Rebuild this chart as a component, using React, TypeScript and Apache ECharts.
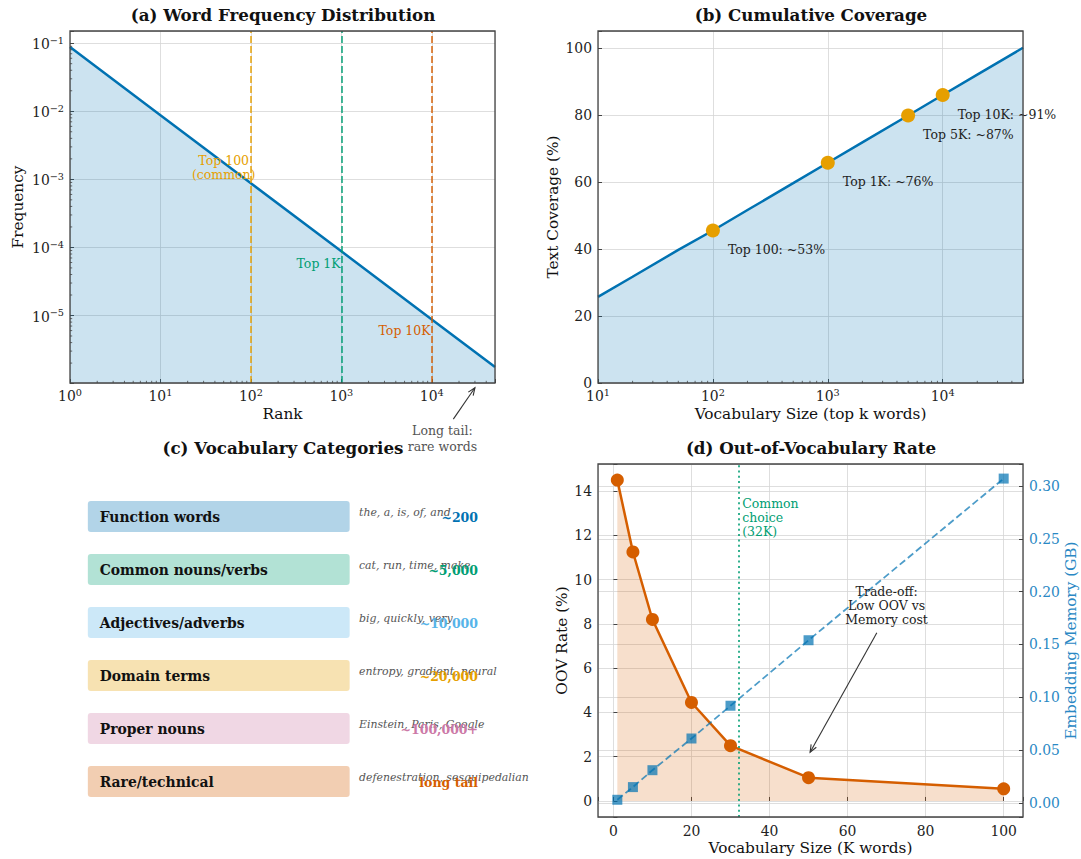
import React, { useEffect, useRef } from 'react';
import * as echarts from 'echarts';

const FONT = '"DejaVu Serif", serif';

// ---------- (a) Word frequency distribution ----------
const zipfRanks = [1, 10, 100, 1000, 10000, 50000];
const zipfFreq = [0.0877, 0.00877, 0.000877, 0.0000877, 0.00000877, 0.00000175];
const thresholdRanks = [100, 1000, 10000];
const thresholdLabels = ['Top 100\n(common)', 'Top 1K', 'Top 10K'];
const thresholdColors = ['#E69F00', '#009E73', '#D55E00'];

// ---------- (b) Cumulative coverage ----------
const vocabSizes = [10, 20, 50, 100, 200, 500, 1000, 2000, 5000, 10000, 20000, 50000];
const coverage = [25.7, 31.7, 39.7, 45.5, 51.6, 59.6, 65.7, 71.8, 79.8, 85.9, 92.0, 100];
const milestoneSizes = [100, 1000, 5000, 10000];
const milestoneCoverage = [45.5, 65.7, 79.8, 85.9];
const milestoneLabels = ['Top 100: ~53%', 'Top 1K: ~76%', 'Top 5K: ~87%', 'Top 10K: ~91%'];

// ---------- (c) Vocabulary categories ----------
const categoryNames = ['Function words', 'Common nouns/verbs', 'Adjectives/adverbs', 'Domain terms', 'Proper nouns', 'Rare/technical'];
const categoryExamples = ['the, a, is, of, and', 'cat, run, time, make', 'big, quickly, very', 'entropy, gradient, neural', 'Einstein, Paris, Google', 'defenestration, sesquipedalian'];
const categoryCounts = ['~200', '~5,000', '~10,000', '~20,000', '~100,000+', 'long tail'];
const categoryColors = ['#0072B2', '#009E73', '#56B4E9', '#E69F00', '#CC79A7', '#D55E00'];

// ---------- (d) OOV rate ----------
const vocabK = [1, 5, 10, 20, 30, 50, 100];
const oovRate = [14.5, 11.25, 8.2, 4.45, 2.5, 1.05, 0.55];
const memoryGB = [0.003, 0.015, 0.031, 0.061, 0.092, 0.154, 0.307];
const commonChoiceK = 32;

// layout
const GA = { left: 70, top: 31, width: 425, height: 352 };
const GB = { left: 598, top: 31, width: 425, height: 352 };
const GC = { left: 70, top: 490, width: 425, height: 318 };
const GD = { left: 598, top: 464, width: 425, height: 353 };

const TICK_FS = 13.9;
const TICK_COLOR = '#222';
const powLabel = (v: number) => {
  const e = Math.log10(v);
  const r = Math.round(e);
  if (Math.abs(e - r) > 1e-6) return '';
  return '{b|10}{s|' + (r < 0 ? '−' + -r : String(r)) + '}';
};
const powRich = {
  b: { fontFamily: FONT, fontSize: TICK_FS, color: TICK_COLOR, verticalAlign: 'bottom' },
  s: { fontFamily: FONT, fontSize: 9.7, color: TICK_COLOR, verticalAlign: 'top', padding: [0, 0, 6, 0] },
};
const multOf = (step: number, digits: number) => (v: number) => {
  const r = Math.round(v / step);
  return Math.abs(v - r * step) < step * 1e-6 ? (r * step).toFixed(digits) : '';
};

const GRID_LINE = { show: true, lineStyle: { color: '#d6d6d6', width: 0.8 } };
const tick = { show: true, inside: true, length: 4, lineStyle: { color: '#444', width: 1 } };
const labelBase = { fontFamily: FONT, fontSize: TICK_FS, color: TICK_COLOR, hideOverlap: false };
const nameStyle = { fontFamily: FONT, fontSize: 15.3, color: '#111' };

export default function App() {
  const ref = useRef<HTMLDivElement>(null);
  useEffect(() => {
    document.body.style.margin = '0';
    const chart = echarts.init(ref.current!, null, { renderer: 'svg' });
    const option: any = {
      animation: false,
      backgroundColor: '#ffffff',
      grid: [GA, GB, GC, GD].map((g) => ({ ...g, containLabel: false })),
      xAxis: [
        {
          type: 'log', gridIndex: 0, min: 1, max: 50000, logBase: 10,
          axisLine: { show: false }, axisTick: tick, splitLine: GRID_LINE,
          axisLabel: { ...labelBase, formatter: powLabel, rich: powRich, margin: 4 },
          name: 'Rank', nameLocation: 'middle', nameGap: 23, nameTextStyle: nameStyle,
        },
        {
          type: 'log', gridIndex: 1, min: 10, max: 50000, logBase: 10,
          axisLine: { show: false }, axisTick: tick, splitLine: GRID_LINE,
          axisLabel: { ...labelBase, formatter: powLabel, rich: powRich, margin: 4 },
          name: 'Vocabulary Size (top k words)', nameLocation: 'middle', nameGap: 23, nameTextStyle: nameStyle,
        },
        { type: 'value', gridIndex: 2, min: 0, max: 1, show: false },
        {
          type: 'value', gridIndex: 3, min: -3.95, max: 104.95, splitNumber: 5,
          axisLine: { show: false }, axisTick: tick, splitLine: GRID_LINE,
          axisLabel: { ...labelBase, formatter: multOf(20, 0), margin: 7 },
          name: 'Vocabulary Size (K words)', nameLocation: 'middle', nameGap: 23, nameTextStyle: nameStyle,
        },
      ],
      yAxis: [
        {
          type: 'log', gridIndex: 0, min: 1.02e-6, max: 0.151, logBase: 10,
          axisLine: { show: false }, axisTick: tick, splitLine: GRID_LINE,
          axisLabel: { ...labelBase, formatter: powLabel, rich: powRich, margin: 6 },
          name: 'Frequency', nameLocation: 'middle', nameRotate: 90, nameGap: 45, nameTextStyle: nameStyle,
        },
        {
          type: 'value', gridIndex: 1, min: 0, max: 105, splitNumber: 5,
          axisLine: { show: false }, axisTick: tick, splitLine: GRID_LINE,
          axisLabel: { ...labelBase, formatter: multOf(20, 0), margin: 6 },
          name: 'Text Coverage (%)', nameLocation: 'middle', nameRotate: 90, nameGap: 38, nameTextStyle: nameStyle,
        },
        { type: 'category', gridIndex: 2, data: categoryNames, inverse: true, show: false },
        {
          type: 'value', gridIndex: 3, min: -0.725, max: 15.225, splitNumber: 8,
          axisLine: { show: false }, axisTick: tick, splitLine: GRID_LINE,
          axisLabel: { ...labelBase, formatter: multOf(2, 0), margin: 6 },
          name: 'OOV Rate (%)', nameLocation: 'middle', nameRotate: 90, nameGap: 29, nameTextStyle: nameStyle,
        },
        {
          type: 'value', gridIndex: 3, position: 'right', min: -0.0133, max: 0.3208, splitNumber: 7,
          axisLine: { show: false }, axisTick: tick, splitLine: GRID_LINE,
          axisLabel: { ...labelBase, color: '#2a88c4', formatter: multOf(0.05, 2), margin: 6 },
          name: 'Embedding Memory (GB)', nameLocation: 'middle', nameRotate: 90, nameGap: 39,
          nameTextStyle: { ...nameStyle, color: '#2a88c4' },
        },
      ],
      series: [
        {
          type: 'line', xAxisIndex: 0, yAxisIndex: 0,
          data: zipfRanks.map((r, i) => [r, zipfFreq[i]]),
          showSymbol: false, symbol: 'none',
          lineStyle: { color: '#0072B2', width: 2.5 },
          areaStyle: { color: '#0072B2', opacity: 0.2, origin: 'start' },
          markLine: {
            silent: true, symbol: ['none', 'none'], label: { show: false },
            data: thresholdRanks.map((r, i) => ({
              xAxis: r,
              lineStyle: { color: thresholdColors[i], type: [7, 3], width: 1.8, opacity: 0.8 },
            })),
          },
          z: 3,
        },
        {
          type: 'line', xAxisIndex: 1, yAxisIndex: 1,
          data: vocabSizes.map((s, i) => [s, coverage[i]]),
          showSymbol: false, symbol: 'none',
          lineStyle: { color: '#0072B2', width: 2.5 },
          areaStyle: { color: '#0072B2', opacity: 0.2, origin: 'start' },
          z: 3,
        },
        {
          type: 'scatter', xAxisIndex: 1, yAxisIndex: 1,
          data: milestoneSizes.map((s, i) => [s, milestoneCoverage[i]]),
          symbol: 'circle', symbolSize: 14,
          itemStyle: { color: '#E69F00', opacity: 1 },
          label: {
            show: true, position: 'right', distance: 8, offset: [0, 19],
            formatter: (p: any) => milestoneLabels[p.dataIndex],
            fontFamily: FONT, fontSize: 12.5, color: '#222',
          },
          z: 5,
        },
        {
          type: 'custom', xAxisIndex: 2, yAxisIndex: 2,
          data: categoryNames.map((_, i) => [0, i]),
          encode: { x: 0, y: 1 },
          renderItem: (params: any, api: any) => {
            const i = params.dataIndex;
            const xs = (v: number) => api.coord([v, i])[0];
            const cy = api.coord([0, i])[1];
            return {
              type: 'group',
              children: [
                {
                  type: 'rect',
                  shape: { x: xs(0.042), y: cy - 15.5, width: xs(0.658) - xs(0.042), height: 31, r: 3 },
                  style: { fill: categoryColors[i], opacity: 0.3 },
                },
                {
                  type: 'text',
                  style: {
                    text: categoryNames[i], x: xs(0.07), y: cy, align: 'left', verticalAlign: 'middle',
                    fontFamily: FONT, fontWeight: 'bold', fontSize: 13.9, fill: '#111',
                  },
                },
                {
                  type: 'text',
                  style: {
                    text: categoryExamples[i], x: xs(0.68), y: cy - 4, align: 'left', verticalAlign: 'middle',
                    fontFamily: FONT, fontStyle: 'italic', fontSize: 10.9, fill: '#555',
                  },
                },
                {
                  type: 'text',
                  style: {
                    text: categoryCounts[i], x: xs(0.96), y: cy + 1, align: 'right', verticalAlign: 'middle',
                    fontFamily: FONT, fontWeight: 'bold', fontSize: 12.5, fill: categoryColors[i],
                  },
                },
              ],
            };
          },
        },
        {
          type: 'line', xAxisIndex: 3, yAxisIndex: 3,
          data: vocabK.map((k, i) => [k, oovRate[i]]),
          symbol: 'circle', symbolSize: 13, showSymbol: true,
          itemStyle: { color: '#D55E00' },
          lineStyle: { color: '#D55E00', width: 2.5 },
          areaStyle: { color: '#D55E00', opacity: 0.2 },
          markLine: {
            silent: true, symbol: ['none', 'none'], label: { show: false },
            data: [{ xAxis: commonChoiceK }],
            lineStyle: { color: '#009E73', type: [2, 3.3], width: 2, opacity: 0.8 },
          },
          z: 3,
        },
        {
          type: 'line', xAxisIndex: 3, yAxisIndex: 4,
          data: vocabK.map((k, i) => [k, memoryGB[i]]),
          symbol: 'rect', symbolSize: 10, showSymbol: true,
          itemStyle: { color: '#0072B2', opacity: 0.7 },
          lineStyle: { color: '#0072B2', width: 1.8, type: [7, 3.5], opacity: 0.7 },
          z: 4,
        },
      ],
    };
    chart.setOption(option);

    const px = (xi: number, yi: number, v: number[]) => chart.convertToPixel({ xAxisIndex: xi, yAxisIndex: yi } as any, v) as number[];
    const g: any[] = [];
    const title = (text: string, x: number, y: number) =>
      g.push({
        type: 'text', x, y, z: 100,
        style: { text, align: 'center', verticalAlign: 'middle', fontFamily: FONT, fontWeight: 'bold', fontSize: 16.7, fill: '#111' },
      });
    title('(a) Word Frequency Distribution', 283, 15);
    title('(b) Cumulative Coverage', 811, 15);
    title('(c) Vocabulary Categories', 283, 448);
    title('(d) Out-of-Vocabulary Rate', 811, 448);

    [GA, GB, GD].forEach((r) =>
      g.push({
        type: 'rect', z: 100, silent: true,
        shape: { x: r.left, y: r.top, width: r.width, height: r.height },
        style: { fill: 'none', stroke: '#444', lineWidth: 1.3 },
      })
    );

    const text = (t: string, p: number[], color: string, size: number, align = 'center', lh = 14) =>
      g.push({
        type: 'text', x: p[0], y: p[1], z: 101,
        style: { text: t, align, verticalAlign: 'middle', fontFamily: FONT, fontSize: size, fill: color, lineHeight: lh },
      });
    const arrow = (from: number[], to: number[], color: string) => {
      const ang = Math.atan2(to[1] - from[1], to[0] - from[0]);
      const L = 8, a = 0.38;
      g.push({ type: 'line', z: 101, shape: { x1: from[0], y1: from[1], x2: to[0], y2: to[1] }, style: { stroke: color, lineWidth: 1.1 } });
      g.push({
        type: 'polyline', z: 101,
        shape: {
          points: [
            [to[0] - L * Math.cos(ang - a), to[1] - L * Math.sin(ang - a)],
            [to[0], to[1]],
            [to[0] - L * Math.cos(ang + a), to[1] - L * Math.sin(ang + a)],
          ],
        },
        style: { stroke: color, lineWidth: 1.1, fill: 'none' },
      });
    };

    // (a) threshold labels
    text(thresholdLabels[0], px(0, 0, [50, 1.47e-3]), thresholdColors[0], 12.5, 'center', 14);
    text(thresholdLabels[1], px(0, 0, [560, 5.8e-5]), thresholdColors[1], 12.5, 'center');
    text(thresholdLabels[2], px(0, 0, [5000, 6e-6]), thresholdColors[2], 12.5, 'center');
    // (a) long tail annotation
    text('Long tail:\nrare words', px(0, 0, [13100, 1.55e-7]), '#555', 12.5, 'center', 16);
    arrow(px(0, 0, [17300, 3.0e-7]), px(0, 0, [30000, 8.7e-7]), '#333');

    // (d) annotations
    text('Common\nchoice\n(32K)', px(3, 3, [33, 12.8]), '#009E73', 12.5, 'left', 14);
    text('Trade-off:\nLow OOV vs\nMemory cost', px(3, 3, [70, 8.84]), '#222', 12.5, 'center', 14);
    arrow(px(3, 3, [67.5, 7.6]), px(3, 3, [50.4, 2.2]), '#333');

    // minor ticks on log axes
    const minor = (xi: number, yi: number, vals: number[], axis: 'x' | 'y', grid: any) => {
      vals.forEach((v) => {
        const p = axis === 'x' ? px(xi, yi, [v, 1]) : px(xi, yi, [1, v]);
        if (axis === 'x') {
          if (p[0] <= grid.left + 0.5 || p[0] >= grid.left + grid.width - 0.5) return;
          const yb = grid.top + grid.height;
          g.push({ type: 'line', z: 99, silent: true, shape: { x1: p[0], y1: yb, x2: p[0], y2: yb - 2.2 }, style: { stroke: '#444', lineWidth: 0.8 } });
        } else {
          if (p[1] <= grid.top + 0.5 || p[1] >= grid.top + grid.height - 0.5) return;
          g.push({ type: 'line', z: 99, silent: true, shape: { x1: grid.left, y1: p[1], x2: grid.left + 2.2, y2: p[1] }, style: { stroke: '#444', lineWidth: 0.8 } });
        }
      });
    };
    const minorVals = (e0: number, e1: number) => {
      const out: number[] = [];
      for (let e = e0; e <= e1; e++) for (let k = 2; k <= 9; k++) out.push(k * Math.pow(10, e));
      return out;
    };
    minor(0, 0, minorVals(0, 4), 'x', GA);
    minor(0, 0, minorVals(-7, -1), 'y', GA);
    minor(1, 1, minorVals(1, 4), 'x', GB);

    chart.setOption({ graphic: g });
    return () => chart.dispose();
  }, []);
  return <div ref={ref} style={{ position: 'fixed', left: 0, top: 0, width: 1081, height: 859 }} />;
}
